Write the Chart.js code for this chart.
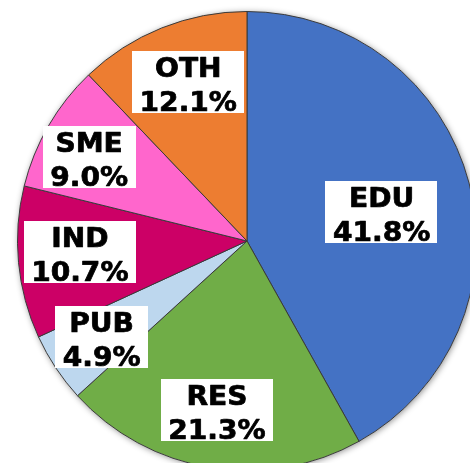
<!DOCTYPE html>
<html>
<head>
<meta charset="utf-8">
<script src="https://cdn.jsdelivr.net/npm/chart.js@4"></script>
<style>
  html, body { margin: 0; padding: 0; background: #fff; overflow: hidden; }
  body { width: 470px; height: 463px; position: relative; }
  #wrap { position: absolute; left: 0; top: 0; width: 494px; height: 482px; }
</style>
</head>
<body>
<div id="wrap"><canvas id="pieChart" width="494" height="482"></canvas></div>
<script>
// slices, clockwise from 12 o'clock
const categories = ["EDU", "RES", "PUB", "IND", "SME", "OTH"];
const shares = [41.8, 21.3, 4.9, 10.7, 9.0, 12.1];
const sliceColors = ["#4472C4", "#70AD47", "#BDD7EE", "#CC0066", "#FF66CC", "#ED7D31"];

// where each label box sits: fraction of radius, and nudge in degrees off the slice middle
const labelRadius = [0.60, 0.746, 0.76, 0.73, 0.78, 0.74];
const labelNudge = [2.6, 0.9, 0, 1.6, -2, 1.6];

const pieShadow = {
    id: "pieShadow",
    beforeDatasetsDraw(chart) {
        const arc = chart.getDatasetMeta(0).data[0];
        if (!arc) return;
        const ctx = chart.ctx;
        ctx.save();
        ctx.shadowColor = "rgba(0,0,0,0.45)";
        ctx.shadowBlur = 6;
        ctx.shadowOffsetX = 1;
        ctx.shadowOffsetY = 1;
        ctx.fillStyle = "#fff";
        ctx.beginPath();
        ctx.arc(arc.x, arc.y, arc.outerRadius, 0, Math.PI * 2);
        ctx.fill();
        ctx.restore();
    }
};

// white boxes with two bold lines, Verdana-ish: widen DejaVu a little and thicken it
const boxLabels = {
    id: "boxLabels",
    afterDatasetsDraw(chart) {
        const ctx = chart.ctx;
        const meta = chart.getDatasetMeta(0);
        const sx = 1.08;
        ctx.save();
        ctx.font = "bold 26px 'DejaVu Sans', Verdana, sans-serif";
        ctx.textAlign = "center";
        ctx.textBaseline = "alphabetic";
        ctx.lineJoin = "round";
        meta.data.forEach((arc, i) => {
            const mid = (arc.startAngle + arc.endAngle) / 2 + labelNudge[i] * Math.PI / 180;
            const r = arc.outerRadius * labelRadius[i];
            const cx = arc.x + Math.cos(mid) * r;
            const cy = arc.y + Math.sin(mid) * r;
            const line1 = categories[i];
            const line2 = shares[i].toFixed(1) + "%";
            const tw = Math.max(ctx.measureText(line1).width, ctx.measureText(line2).width) * sx;
            const w = tw + 15;
            const h = 62;
            ctx.fillStyle = "#fff";
            ctx.fillRect(Math.round(cx - w / 2), Math.round(cy - h / 2), Math.round(w), h);

            ctx.save();
            ctx.translate(cx, cy);
            ctx.scale(sx, 1);
            ctx.fillStyle = "#000";
            ctx.strokeStyle = "#000";
            ctx.lineWidth = 0.7;
            ctx.fillText(line1, 0, -5);
            ctx.strokeText(line1, 0, -5);
            ctx.fillText(line2, 0, 29);
            ctx.strokeText(line2, 0, 29);
            ctx.restore();
        });
        ctx.restore();
    }
};

new Chart(document.getElementById("pieChart"), {
    type: "pie",
    data: {
        labels: categories,
        datasets: [{
            data: shares,
            backgroundColor: sliceColors,
            borderColor: "#3a3a3a",
            borderWidth: 1
        }]
    },
    options: {
        responsive: false,
        animation: false,
        layout: { padding: 11 },
        plugins: {
            legend: { display: false },
            tooltip: { enabled: false }
        }
    },
    plugins: [pieShadow, boxLabels]
});
</script>
</body>
</html>
